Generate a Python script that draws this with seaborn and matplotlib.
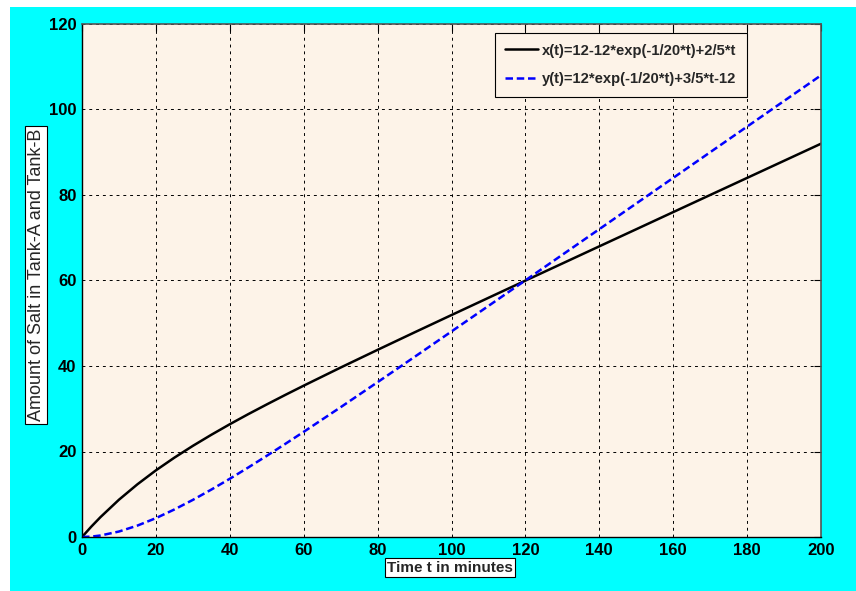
import numpy as np
import pandas as pd
import matplotlib
matplotlib.use("Agg")
import matplotlib.pyplot as plt
import seaborn as sns
from matplotlib.patches import Rectangle

# Time samples (minutes) and salt amounts in each tank
t_min = [0, 2.5, 5, 10, 15, 20, 25, 30, 35, 40, 45, 50, 55, 60, 70, 80, 90, 100,
         110, 120, 130, 140, 150, 160, 170, 180, 190, 200]
tank_a = [0.00, 2.41, 4.65, 8.72, 12.33, 15.59, 18.56, 21.32, 23.91, 26.38, 28.74,
          31.01, 33.23, 35.40, 39.64, 43.78, 47.87, 51.92, 55.95, 59.97, 63.98,
          67.99, 71.99, 76.00, 80.00, 84.00, 88.00, 92.00]
tank_b = [0.00, 0.09, 0.35, 1.28, 2.67, 4.41, 6.44, 8.68, 11.09, 13.62, 16.26,
          18.99, 21.77, 24.60, 30.36, 36.22, 42.13, 48.08, 54.05, 60.03, 66.02,
          72.01, 78.01, 84.00, 90.00, 96.00, 102.00, 108.00]
label_a = "x(t)=12-12*exp(-1/20*t)+2/5*t"
label_b = "y(t)=12*exp(-1/20*t)+3/5*t-12"
x_ticks = [0, 20, 40, 60, 80, 100, 120, 140, 160, 180, 200]
y_ticks = [0, 20, 40, 60, 80, 100, 120]

sns.set_style("white")
plt.rcParams["font.family"] = ["Liberation Sans", "DejaVu Sans"]

fig = plt.figure(figsize=(8.56, 5.91), dpi=100, facecolor="white")
fig.patches.append(Rectangle((10 / 856, 0), 1 - 10 / 856, 1 - 7 / 591,
                             transform=fig.transFigure, facecolor="#00FFFF",
                             edgecolor="none", zorder=-10))
ax = fig.add_axes([82 / 856, 1 - 537 / 591, (821 - 82) / 856, (537 - 24) / 591])
ax.set_zorder(1)
ax.set_facecolor("#FDF3E8")

df = pd.DataFrame({"t": t_min + t_min,
                   "amount": tank_a + tank_b,
                   "series": [label_a] * len(t_min) + [label_b] * len(t_min)})
sns.lineplot(data=df, x="t", y="amount", hue="series", style="series",
             palette={label_a: "black", label_b: "#0000FF"},
             dashes={label_a: "", label_b: (3, 1.5)},
             linewidth=1.8, ax=ax)

ax.set_xlim(0, 200)
ax.set_ylim(0, 120)
ax.set_xticks(x_ticks)
ax.set_yticks(y_ticks)
ax.grid(True, color="black", linestyle=(0, (3, 4)), linewidth=0.7)
ax.tick_params(direction="in", length=5, width=0.8, top=True, right=True,
               labelsize=12, pad=4, colors="black")
for lbl in ax.get_xticklabels() + ax.get_yticklabels():
    lbl.set_fontweight("bold")
for side in ["left", "bottom"]:
    ax.spines[side].set_color("black")
    ax.spines[side].set_linewidth(1.0)
for side in ["top", "right"]:
    ax.spines[side].set_color("#555555")
    ax.spines[side].set_linewidth(1.2)

box = dict(boxstyle="square,pad=0.15", facecolor="white", edgecolor="black", linewidth=0.8)
ax.set_xlabel("Time t in minutes", fontsize=11, fontweight="bold", bbox=box)
ax.set_ylabel("Amount of Salt in Tank-A and Tank-B", fontsize=13, bbox=box)
ax.xaxis.label.set_va("center")
ax.yaxis.label.set_va("center")
ax.xaxis.set_label_coords(0.498, -0.060)
ax.yaxis.set_label_coords(-0.0622, 0.511)

leg = ax.legend(loc="upper right", bbox_to_anchor=(0.900, 0.9825), fancybox=False,
                framealpha=1, edgecolor="black", facecolor="#FDF3E8",
                prop={"weight": "bold", "size": 10.6}, handlelength=2.2,
                handletextpad=0.3, borderpad=0.72, labelspacing=1.0,
                borderaxespad=0)
leg.get_frame().set_linewidth(0.8)

fig.savefig("out.png", dpi=100, facecolor=fig.get_facecolor())
